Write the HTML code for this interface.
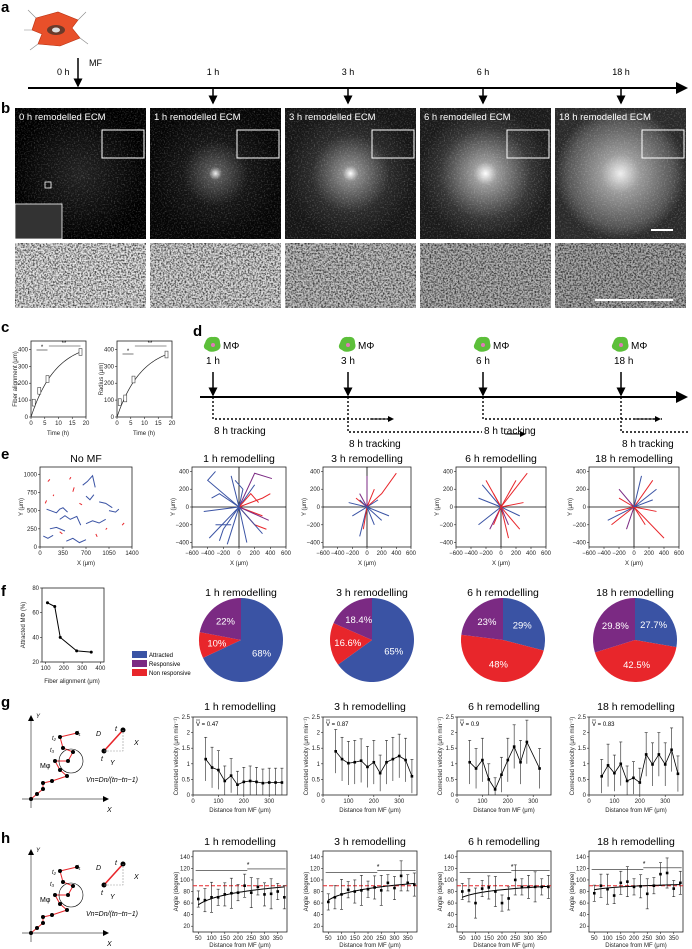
<!DOCTYPE html>
<html><head><meta charset="utf-8">
<style>
html,body{margin:0;padding:0;background:#fff;}
svg{display:block;font-family:"Liberation Sans",sans-serif;}
.lbl{font-weight:bold;font-size:15px;}
.tt{font-size:10.5px;}
.tk{font-size:6px;fill:#222;}
.ax{font-size:6px;fill:#222;}
</style></head>
<body>
<svg id="fig" width="692" height="949" viewBox="0 0 692 949" xmlns="http://www.w3.org/2000/svg">
<defs>
 <marker id="ah" markerWidth="6" markerHeight="6" refX="5" refY="3" orient="auto"><path d="M0,0 L6,3 L0,6 z" fill="#000"/></marker>
 <filter id="noise" x="0" y="0" width="100%" height="100%">
  <feTurbulence type="fractalNoise" baseFrequency="0.6" numOctaves="2" seed="3"/>
  <feColorMatrix type="matrix" values="0 0 0 0 0  0 0 0 0 0  0 0 0 0 0  0 0 0 -2.4 1.5"/>
 </filter>
 <filter id="noise2" x="0" y="0" width="100%" height="100%">
  <feTurbulence type="fractalNoise" baseFrequency="0.7" numOctaves="2" seed="8"/>
  <feColorMatrix type="matrix" values="0 0 0 0 1  0 0 0 0 1  0 0 0 0 1  0 0 0 2.2 -1.1"/>
 </filter>
 <radialGradient id="g0"><stop offset="0" stop-color="#222"/><stop offset="1" stop-color="#000"/></radialGradient>
 <radialGradient id="g1"><stop offset="0" stop-color="#eee"/><stop offset="0.1" stop-color="#555"/><stop offset="0.5" stop-color="#151515"/><stop offset="1" stop-color="#050505"/></radialGradient>
 <radialGradient id="g3"><stop offset="0" stop-color="#fff"/><stop offset="0.12" stop-color="#888"/><stop offset="0.6" stop-color="#2a2a2a"/><stop offset="1" stop-color="#151515"/></radialGradient>
 <radialGradient id="g6"><stop offset="0" stop-color="#fff"/><stop offset="0.18" stop-color="#999"/><stop offset="0.7" stop-color="#333"/><stop offset="1" stop-color="#1a1a1a"/></radialGradient>
 <radialGradient id="g18"><stop offset="0" stop-color="#eee"/><stop offset="0.3" stop-color="#999"/><stop offset="0.8" stop-color="#555"/><stop offset="1" stop-color="#2a2a2a"/></radialGradient>
</defs>

<!-- Panel a -->
<text class="lbl" x="1" y="12">a</text>
<g>
 <path d="M36,18 L58,12 L78,20 L72,28 L80,38 L60,46 L38,44 L42,34 L32,30 Z" fill="#e8502a" stroke="#b83010" stroke-width="0.6"/>
 <ellipse cx="56" cy="30" rx="9" ry="5" fill="#6a3a2a"/><ellipse cx="56" cy="30" rx="4" ry="2.5" fill="#ddd"/>
 <path d="M36,18 L28,10 M78,20 L86,12 M80,38 L88,44 M38,44 L30,50 M32,30 L24,30" stroke="#888" stroke-width="0.6"/>
</g>
<text x="89" y="66" font-size="9">MF</text>
<line x1="28" y1="88" x2="686" y2="88" stroke="#000" stroke-width="2" marker-end="url(#ah)"/>
<g id="timeA"></g>

<!-- Panel b -->
<text class="lbl" x="1" y="113">b</text>
<g id="micro"></g>

<!-- Panel c -->
<text class="lbl" x="1" y="332">c</text>
<g id="pc"></g>

<!-- Panel d -->
<text class="lbl" x="193" y="336">d</text>
<g id="pd"></g>

<!-- Panel e -->
<text class="lbl" x="1" y="459">e</text>
<g id="pe"></g>

<!-- Panel f -->
<text class="lbl" x="1" y="596">f</text>
<g id="pf"></g>

<!-- Panel g -->
<text class="lbl" x="1" y="707">g</text>
<g id="pg"></g>

<!-- Panel h -->
<text class="lbl" x="1" y="843">h</text>
<g id="ph"></g>
</svg>

<script>
const NS="http://www.w3.org/2000/svg";
function mk(parent,tag,attrs,text){const e=document.createElementNS(NS,tag);for(const k in attrs)e.setAttribute(k,attrs[k]);if(text!==undefined)e.textContent=text;parent.appendChild(e);return e;}
const BLUE="#3a53a4",PURP="#7b2a83",RED="#e8262b";

/* ---------- data ---------- */
const timeLabels=["1 h","3 h","6 h","18 h"];
const timeX=[213,348,483,621];
const microTitles=["0 h remodelled ECM","1 h remodelled ECM","3 h remodelled ECM","6 h remodelled ECM","18 h remodelled ECM"];
const microX=[15,150,285,420,555];
const cTime=[1,3,6,18];
const cFiber=[85,155,225,385];
const cRadius=[88,110,222,370];
const fAlign=[110,150,180,270,350];
const fAttracted=[68,65,40,29,28];
const pieTitles=["1 h remodelling","3 h remodelling","6 h remodelling","18 h remodelling"];
const pieAttracted=[68,65,29,27.7];
const pieNonResp=[10,16.6,48,42.5];
const pieResp=[22,18.4,23,29.8];
const gDist=[50,75,100,125,150,175,200,225,250,275,300,325,350];
const gVel1h=[1.15,0.88,0.8,0.45,0.62,0.33,0.42,0.45,0.42,0.38,0.4,0.4,0.4];
const gVel3h=[1.4,1.15,1.02,1.05,1.1,0.9,1.05,0.7,1.05,1.15,1.25,1.12,0.6];
const gDist6h=[50,75,100,125,150,175,200,225,250,275,325];
const gVel6h=[1.05,0.85,1.12,0.5,0.18,0.65,1.12,1.55,1.05,1.7,0.85];
const gVel18h=[0.6,0.95,0.7,1.0,0.45,0.55,0.4,1.3,0.98,1.3,0.98,1.45,0.68];
const gVbar=["0.47","0.87","0.9","0.83"];
const hDist=[50,75,100,125,150,175,200,225,250,275,300,325,350,375];
const hAng1h=[67,65,70,70,75,77,78,90,78,88,75,76,80,70];
const hAng3h=[62,70,75,83,80,82,84,87,82,95,86,107,95,92];
const hAng6h=[80,82,60,85,87,80,60,68,100,88,88,88,88,88];
const hAng18h=[77,90,84,73,95,97,88,89,76,90,110,112,85,95];
const hFitStart=[57,65,70,83];
const hFitEnd=[88,94,89,92];
/* tracks for panel e : each is [color, x1,y1,x2,y2,...] in data units */
const tracksNoMF=[["b",100,520,250,470,300,520,350,540,420,480],["b",300,380,380,430,460,380,560,420,620,300],["r",120,900,150,930],["b",650,850,720,900,800,980,840,820],["b",150,250,250,270,380,220],["r",300,210,340,180],["b",400,80,500,120,600,60,700,100],["b",700,320,800,360,900,330,1000,380],["r",850,180,870,140],["b",1050,500,1150,480,1200,520],["r",1000,240,1020,260],["b",900,620,1000,600,1100,540],["r",500,760,520,820],["r",200,700,210,720],["r",80,600,100,640],["r",600,600,640,580],["r",450,930,470,960],["b",50,150,120,120,200,160],["r",1250,300,1280,330],["b",700,700,760,650,820,720]];
const tracks1h=[["b",0,0,-400,300,-300,400],["b",0,0,-380,-350],["b",0,0,-150,-420],["p",0,0,200,380,420,320],["r",0,0,300,100,400,150],["r",0,0,200,-200,350,-250],["b",0,0,100,-400],["b",0,0,-450,-50],["b",0,0,-100,350],["r",0,0,300,-100],["p",0,0,380,-150],["b",0,0,200,250],["b",-100,-200,-300,-200],["b",0,0,-250,150,-350,100],["b",0,0,-200,-250,-250,-380],["r",0,0,150,150,250,50],["b",0,0,50,200,-50,300],["b",0,0,300,-300]];
const tracks3h=[["r",0,0,200,150,400,380],["b",0,0,-250,50],["b",0,0,200,-150],["b",0,0,-100,-330],["r",0,0,100,200],["p",0,0,-100,150],["b",0,0,300,-100],["r",0,0,-50,-250],["b",0,0,150,80],["p",0,0,0,350],["b",0,0,-200,-100],["b",0,0,100,-200],["r",0,0,-150,100],["b",0,0,-100,80]];
const tracks6h=[["r",0,0,350,380],["r",0,0,200,300],["b",0,0,-300,-200],["r",0,0,-200,300],["b",0,0,250,-100],["r",0,0,100,-350],["p",0,0,-150,-250],["b",0,0,-300,100],["r",0,0,300,50],["p",0,0,100,-200],["r",0,0,-100,-200],["b",0,0,-250,250],["r",0,0,250,-250],["r",0,0,-100,150]];
const tracks18h=[["r",0,0,400,-350],["r",0,0,-300,-200],["b",0,0,-350,-150],["r",0,0,250,300],["b",0,0,300,200],["r",0,0,-200,100],["p",0,0,-200,200],["b",0,0,100,350],["r",0,0,300,-50],["p",0,0,-100,-250],["r",0,0,-250,-50],["r",0,0,150,-200],["b",0,0,250,80]];

/* ---------- helpers ---------- */
function lin(d0,d1,r0,r1){return v=>r0+(v-d0)/(d1-d0)*(r1-r0);}
function frame(g,x,y,w,h,name){const r=mk(g,'rect',{x:x,y:y,width:w,height:h,fill:'none',stroke:'#222','stroke-width':0.8});}
function xt(g,sx,y,vals,labels){vals.forEach((v,i)=>{mk(g,'line',{x1:sx(v),y1:y,x2:sx(v),y2:y+2,stroke:'#222','stroke-width':0.6});const t=mk(g,'text',{x:sx(v),y:y+8,class:'tk','text-anchor':'middle'},labels?labels[i]:String(v));});}
function yt(g,sy,x,vals,labels){vals.forEach((v,i)=>{mk(g,'line',{x1:x,y1:sy(v),x2:x-2,y2:sy(v),stroke:'#222','stroke-width':0.6});const t=mk(g,'text',{x:x-3,y:sy(v)+2,class:'tk','text-anchor':'end'},labels?labels[i]:String(v));});}
function title(g,x,y,s,name){const t=mk(g,'text',{x:x,y:y,class:'tt','text-anchor':'middle'},s);}
function ylab(g,x,y,s){const t=mk(g,'text',{x:x,y:y,class:'ax','text-anchor':'middle',transform:`rotate(-90 ${x} ${y})`},s);}
function xlab(g,x,y,s){const t=mk(g,'text',{x:x,y:y,class:'ax','text-anchor':'middle'},s);}

/* ---------- panel a timeline ---------- */
const ta=document.getElementById('timeA');
mk(ta,'line',{x1:78,y1:58,x2:78,y2:86,stroke:'#000','stroke-width':1.5,'marker-end':'url(#ah)'});
let t0=mk(ta,'text',{x:57,y:75,'font-size':9},'0 h');
timeX.forEach((x,i)=>{
 mk(ta,'line',{x1:x,y1:89,x2:x,y2:103,stroke:'#000','stroke-width':1.5,'marker-end':'url(#ah)'});
 const t=mk(ta,'text',{x:x,y:75,'font-size':9,'text-anchor':'middle'},timeLabels[i]);
 
 
});

/* ---------- panel b micrographs ---------- */
const mi=document.getElementById('micro');
const grads=['g0','g1','g3','g6','g18'];
const botFill=['#e6e6e6','#dcdcdc','#c4c4c4','#b4b4b4','#acacac'];
const glowR=['50%','50%','50%','50%','60%'];
microX.forEach((x,i)=>{
 const g=mk(mi,'g',{});
 
 
 mk(g,'rect',{x:x,y:108,width:131,height:131,fill:`url(#${grads[i]})`});
 mk(g,'rect',{x:x,y:108,width:131,height:131,fill:'#fff',filter:'url(#noise2)',opacity:0.3});
 mk(g,'rect',{x:x+87,y:130,width:42,height:28,fill:'none',stroke:'#fff','stroke-width':1});
 const t=mk(g,'text',{x:x+4,y:120,'font-size':9.5,fill:'#fff'},microTitles[i]);
 
 
 mk(g,'rect',{x:x,y:243,width:131,height:65,fill:botFill[i]});
 mk(g,'rect',{x:x,y:243,width:131,height:65,fill:'#000',filter:'url(#noise)',opacity:0.75});
});
mk(mi,'rect',{x:15,y:204,width:47,height:35,fill:'#333',stroke:'#fff','stroke-width':0.8});
mk(mi,'rect',{x:45,y:182,width:6,height:6,fill:'none',stroke:'#fff','stroke-width':0.8});
mk(mi,'line',{x1:651,y1:230,x2:673,y2:230,stroke:'#fff','stroke-width':2});
mk(mi,'line',{x1:595,y1:300,x2:673,y2:300,stroke:'#fff','stroke-width':2});

/* ---------- panel c ---------- */
const pc=document.getElementById('pc');
function cPlot(x0,vals,ylabel,name,sig){
 const g=mk(pc,'g',{});
 const sx=lin(0,20,x0,x0+55),sy=lin(0,450,417,341);
 frame(g,x0,341,55,76,name+'-frame');
 xt(g,sx,417,[0,5,10,15,20]);yt(g,sy,x0,[0,100,200,300,400]);
 const a=vals[3]/(1-Math.exp(-18/9));let d='';
 for(let t=0;t<=18;t+=0.5){d+=(t?'L':'M')+sx(t)+','+sy(a*(1-Math.exp(-t/9)));}
 mk(g,'path',{d:d,fill:'none',stroke:'#222','stroke-width':0.7});
 cTime.forEach((t,i)=>{const b=mk(g,'rect',{x:sx(t)-1.5,y:sy(vals[i]+20),width:3,height:sy(vals[i]-20)-sy(vals[i]+20),fill:'#fff',stroke:'#444','stroke-width':0.6});});
 mk(g,'line',{x1:sx(2),y1:sig,x2:sx(6),y2:sig,stroke:'#222','stroke-width':0.6});
 mk(g,'line',{x1:sx(6.5),y1:346,x2:sx(18),y2:346,stroke:'#222','stroke-width':0.6});
 mk(g,'text',{x:sx(4),y:sig-1,'font-size':6,'text-anchor':'middle'},'*');
 mk(g,'text',{x:sx(12),y:345,'font-size':6,'text-anchor':'middle'},'**');
 ylab(g,x0-14,379,ylabel);xlab(g,x0+27,435,'Time (h)');
}
cPlot(31,cFiber,'Fiber alignment (μm)','fiber-alignment-plot',350);
cPlot(117,cRadius,'Radius (μm)','radius-plot',354);

/* ---------- panel d ---------- */
const pd=document.getElementById('pd');
mk(pd,'line',{x1:200,y1:397,x2:686,y2:397,stroke:'#000','stroke-width':2,'marker-end':'url(#ah)'});
const trackEnd=[392,482,662,692],trackY=[419,432,419,432];
timeX.forEach((x,i)=>{
 const g=mk(pd,'g',{});
 mk(g,'path',{d:`M${x-8},${343}q2,-7 8,-6q7,-1 7,6q2,6 -4,8q-6,2 -9,-1q-5,-2 -2,-7z`,fill:'#5cbf3a'});
 mk(g,'circle',{cx:x,cy:345,r:2,fill:'#e07ab8'});
 mk(g,'text',{x:x+10,y:349,'font-size':10},'MΦ');
 mk(g,'text',{x:x-7,y:364,'font-size':10},timeLabels[i]);
 mk(g,'line',{x1:x,y1:372,x2:x,y2:395,stroke:'#000','stroke-width':1.5,'marker-end':'url(#ah)'});
 mk(g,'path',{d:`M${x},397 V${trackY[i]} H${Math.min(trackEnd[i],690)}`,fill:'none',stroke:'#000','stroke-width':1.4,'stroke-dasharray':'2,2'});
 const t=mk(g,'text',{x:x+1,y:trackY[i]+15,'font-size':10},'8 h tracking');
 
 
});
mk(pd,'line',{x1:370,y1:419,x2:393,y2:419,stroke:'#000','stroke-width':1,'marker-end':'url(#ah)'});
mk(pd,'line',{x1:505,y1:434,x2:525,y2:434,stroke:'#000','stroke-width':1,'marker-end':'url(#ah)'});
mk(pd,'line',{x1:635,y1:419,x2:660,y2:419,stroke:'#000','stroke-width':1,'marker-end':'url(#ah)'});

/* ---------- panel e ---------- */
const pe=document.getElementById('pe');
const colMap={b:BLUE,r:RED,p:PURP};
function ePlot(x0,w,title_,tracks,isNoMF,name){
 const g=mk(pe,'g',{});
 const y0=467,h=80;
 let sx,sy;
 if(isNoMF){sx=lin(0,1400,x0,x0+w);sy=lin(0,1100,y0+h,y0);}else{sx=lin(-600,600,x0,x0+w);sy=lin(-450,450,y0+h,y0);}
 title(g,x0+w/2,462,title_,name+'-title');
 frame(g,x0,y0,w,h,name+'-frame');
 if(!isNoMF){mk(g,'line',{x1:sx(0),y1:y0,x2:sx(0),y2:y0+h,stroke:'#000','stroke-width':0.8});mk(g,'line',{x1:x0,y1:sy(0),x2:x0+w,y2:sy(0),stroke:'#000','stroke-width':0.8});}
 tracks.forEach(tr=>{let d='';for(let k=1;k<tr.length;k+=2){d+=(k>1?'L':'M')+sx(tr[k])+','+sy(tr[k+1]);}
  const p=mk(g,'path',{d:d,fill:'none',stroke:colMap[tr[0]],'stroke-width':1});});
 if(isNoMF){xt(g,sx,y0+h,[0,350,700,1050,1400]);yt(g,sy,x0,[0,250,500,750,1000]);}
 else{xt(g,sx,y0+h,[-600,-400,-200,0,200,400,600],['−600','−400','−200','0','200','400','600']);yt(g,sy,x0,[-400,-200,0,200,400],['−400','−200','0','200','400']);}
 xlab(g,x0+w/2,565,'X (μm)');ylab(g,x0-17,y0+h/2,'Y (μm)');
}
ePlot(40,92,'No MF',tracksNoMF,true,'tracks-no-mf');
ePlot(192,94,'1 h remodelling',tracks1h,false,'tracks-1h');
ePlot(323,88,'3 h remodelling',tracks3h,false,'tracks-3h');
ePlot(456,90,'6 h remodelling',tracks6h,false,'tracks-6h');
ePlot(589,90,'18 h remodelling',tracks18h,false,'tracks-18h');

/* ---------- panel f ---------- */
const pf=document.getElementById('pf');
(function(){
 const g=mk(pf,'g',{});
 const sx=lin(80,420,42,104),sy=lin(20,80,662,588);
 frame(g,42,588,62,74,'attracted-plot-frame');
 let d='';fAlign.forEach((v,i)=>{d+=(i?'L':'M')+sx(v)+','+sy(fAttracted[i]);});
 mk(g,'path',{d:d,fill:'none',stroke:'#000','stroke-width':1,'stroke-linejoin':'round'});
 fAlign.forEach((v,i)=>{const c=mk(g,'circle',{cx:sx(v),cy:sy(fAttracted[i]),r:1.5,fill:'#000'});});
 xt(g,sx,662,[100,200,300,400]);yt(g,sy,42,[20,40,60,80]);
 ylab(g,25,625,'Attracted MΦ (%)');xlab(g,72,683,'Fiber alignment (μm)');
})();
const legItems=[["Attracted",BLUE],["Responsive",PURP],["Non responsive",RED]];
legItems.forEach((it,i)=>{const g=mk(pf,'g',{});
 mk(g,'rect',{x:132,y:651+i*9,width:15,height:7,fill:it[1]});mk(g,'text',{x:149,y:657+i*9,'font-size':6},it[0]);});
const pieCX=[241,372,503,635];
pieCX.forEach((cx,i)=>{
 const g=mk(pf,'g',{});
 const cy=640,r=42;
 title(g,cx,596,pieTitles[i],'pie-title');
 const parts=[[pieAttracted[i],BLUE],[pieNonResp[i],RED],[pieResp[i],PURP]];
 const tot=parts.reduce((s,p)=>s+p[0],0);let a=0;
 parts.forEach(p=>{const a0=a/tot*2*Math.PI,a1=(a+p[0])/tot*2*Math.PI;a+=p[0];
  const x0=cx+r*Math.sin(a0),y0=cy-r*Math.cos(a0),x1=cx+r*Math.sin(a1),y1=cy-r*Math.cos(a1);
  const s=mk(g,'path',{d:`M${cx},${cy}L${x0},${y0}A${r},${r} 0 ${a1-a0>Math.PI?1:0} 1 ${x1},${y1}Z`,fill:p[1]});
  
  const am=(a0+a1)/2,lr=r*0.58;
  mk(g,'text',{x:cx+lr*Math.sin(am),y:cy-lr*Math.cos(am)+3.5,'font-size':9.5,fill:'#fff','text-anchor':'middle'},p[0]+'%');
 });
});

/* ---------- panel g ---------- */
const pg=document.getElementById('pg');
function diagram(parent,dy,name){
 const g=mk(parent,'g',{transform:`translate(0,${dy})`});
 mk(g,'line',{x1:22,y1:799,x2:108,y2:799,stroke:'#777','stroke-width':1,'marker-end':'url(#ah)'});
 mk(g,'line',{x1:31,y1:808,x2:31,y2:716,stroke:'#777','stroke-width':1,'marker-end':'url(#ah)'});
 const px=[31,37,43,43,52,67,60,55,68,73,63,60,77],py=[799,794,789,783,781,776,770,761,761,752,748,737,733];
 let d='';px.forEach((x,i)=>{d+=(i?'L':'M')+x+','+py[i];});
 mk(g,'path',{d:d,fill:'none',stroke:RED,'stroke-width':1});
 px.forEach((x,i)=>mk(g,'circle',{cx:x,cy:py[i],r:2,fill:'#000'}));
 mk(g,'circle',{cx:71,cy:761,r:12,fill:'none',stroke:'#000','stroke-width':0.6});
 mk(g,'line',{x1:104,y1:751,x2:123,y2:730,stroke:RED,'stroke-width':1.6});
 mk(g,'circle',{cx:104,cy:751,r:2.5,fill:'#000'});mk(g,'circle',{cx:123,cy:730,r:2.5,fill:'#000'});
 mk(g,'path',{d:'M104,751H123V730',fill:'none',stroke:'#999','stroke-width':0.6,'stroke-dasharray':'2,1'});
 mk(g,'text',{x:115,y:731,'font-size':7,'font-style':'italic'},'t');mk(g,'text',{x:101,y:761,'font-size':7,'font-style':'italic'},'t');
 mk(g,'text',{x:96,y:736,'font-size':7,'font-style':'italic'},'D');mk(g,'text',{x:134,y:745,'font-size':7,'font-style':'italic'},'X');
 mk(g,'text',{x:110,y:765,'font-size':7,'font-style':'italic'},'Y');
 mk(g,'text',{x:40,y:768,'font-size':7},'Mφ');mk(g,'text',{x:77,y:735,'font-size':6,'font-style':'italic'},'t₁');
 mk(g,'text',{x:52,y:740,'font-size':6,'font-style':'italic'},'t₂');mk(g,'text',{x:50,y:752,'font-size':6,'font-style':'italic'},'t₃');
 mk(g,'text',{x:36,y:718,'font-size':6,'font-style':'italic'},'Y');mk(g,'text',{x:107,y:812,'font-size':7,'font-style':'italic'},'X');
 mk(g,'text',{x:86,y:782,'font-size':7,'font-style':'italic'},'Vn=Dn/(tn−tn−1)');
}
diagram(pg,0,'velocity-diagram');
const gX=[193,323,457,589],gW=94,gY0=717,gH=78;
const gSeries=[[gDist,gVel1h],[gDist,gVel3h],[gDist6h,gVel6h],[gDist,gVel18h]];
gSeries.forEach((s,i)=>{
 const g=mk(pg,'g',{});
 const x0=gX[i],sx=lin(0,370,x0,x0+gW),sy=lin(0,2.5,gY0+gH,gY0);
 title(g,x0+gW/2,710,pieTitles[i],'velocity-title');
 frame(g,x0,gY0,gW,gH,'velocity-frame');
 let d='';s[0].forEach((v,k)=>{d+=(k?'L':'M')+sx(v)+','+sy(s[1][k]);});
 s[0].forEach((v,k)=>{const val=s[1][k];const e=Math.min(0.3+val*0.4,0.7);
  mk(g,'line',{x1:sx(v),y1:sy(Math.min(val+e,2.5)),x2:sx(v),y2:sy(Math.max(val-e,0)),stroke:'#222','stroke-width':0.6});
  mk(g,'line',{x1:sx(v)-1.5,y1:sy(Math.min(val+e,2.5)),x2:sx(v)+1.5,y2:sy(Math.min(val+e,2.5)),stroke:'#222','stroke-width':0.6});
  const p=mk(g,'rect',{x:sx(v)-1.3,y:sy(val)-1.3,width:2.6,height:2.6,fill:'#000'});});
 mk(g,'path',{d:d,fill:'none',stroke:'#000','stroke-width':0.8});
 xt(g,sx,gY0+gH,[0,100,200,300]);yt(g,sy,x0,[0,0.5,1,1.5,2,2.5]);
 mk(g,'text',{x:x0+3,y:gY0+9,'font-size':6},'V = '+gVbar[i]);
 mk(g,'line',{x1:x0+3,y1:gY0+3,x2:x0+7,y2:gY0+3,stroke:'#000','stroke-width':0.5});
 ylab(g,x0-15,gY0+gH/2,'Corrected velocity (μm min⁻¹)');xlab(g,x0+gW/2,gY0+gH+17,'Distance from MF (μm)');
});

/* ---------- panel h ---------- */
const ph=document.getElementById('ph');
diagram(ph,134,'angle-diagram');
const hY0=851,hH=81;
const hSeries=[hAng1h,hAng3h,hAng6h,hAng18h];
const sigY=[116,113,113,118];
hSeries.forEach((vals,i)=>{
 const g=mk(ph,'g',{});
 const x0=gX[i],sx=lin(30,385,x0,x0+gW),sy=lin(10,150,hY0+hH,hY0);
 title(g,x0+gW/2,845,pieTitles[i],'angle-title');
 frame(g,x0,hY0,gW,hH,'angle-frame');
 mk(g,'line',{x1:x0,y1:sy(90),x2:x0+gW,y2:sy(90),stroke:RED,'stroke-width':1,'stroke-dasharray':'4,2'});
 let d='';for(let v=50;v<=375;v+=5){const f=hFitStart[i]+(hFitEnd[i]-hFitStart[i])*Math.log(v/50)/Math.log(375/50);d+=(v>50?'L':'M')+sx(v)+','+sy(f);}
 mk(g,'path',{d:d,fill:'none',stroke:'#000','stroke-width':1});
 hDist.forEach((v,k)=>{const val=vals[k],e=14+(k%3)*6;
  mk(g,'line',{x1:sx(v),y1:sy(val+e),x2:sx(v),y2:sy(val-e),stroke:'#222','stroke-width':0.6});
  mk(g,'line',{x1:sx(v)-1.5,y1:sy(val+e),x2:sx(v)+1.5,y2:sy(val+e),stroke:'#222','stroke-width':0.6});
  mk(g,'line',{x1:sx(v)-1.5,y1:sy(val-e),x2:sx(v)+1.5,y2:sy(val-e),stroke:'#222','stroke-width':0.6});
  const p=mk(g,'rect',{x:sx(v)-1.3,y:sy(val)-1.3,width:2.6,height:2.6,fill:'#000'});});
 mk(g,'line',{x1:sx(40),y1:sy(sigY[i]),x2:sx(235),y2:sy(sigY[i]),stroke:'#222','stroke-width':0.6});
 mk(g,'line',{x1:sx(235),y1:sy(sigY[i]+3),x2:sx(380),y2:sy(sigY[i]+3),stroke:'#222','stroke-width':0.6});
 mk(g,'text',{x:sx(238),y:sy(sigY[i]+6),'font-size':7,'text-anchor':'middle'},'*');
 xt(g,sx,hY0+hH,[50,100,150,200,250,300,350]);yt(g,sy,x0,[20,40,60,80,100,120,140]);
 ylab(g,x0-15,hY0+hH/2,'Angle (degree)');xlab(g,x0+gW/2,947,'Distance from MF (μm)');
});
</script>
</body></html>
